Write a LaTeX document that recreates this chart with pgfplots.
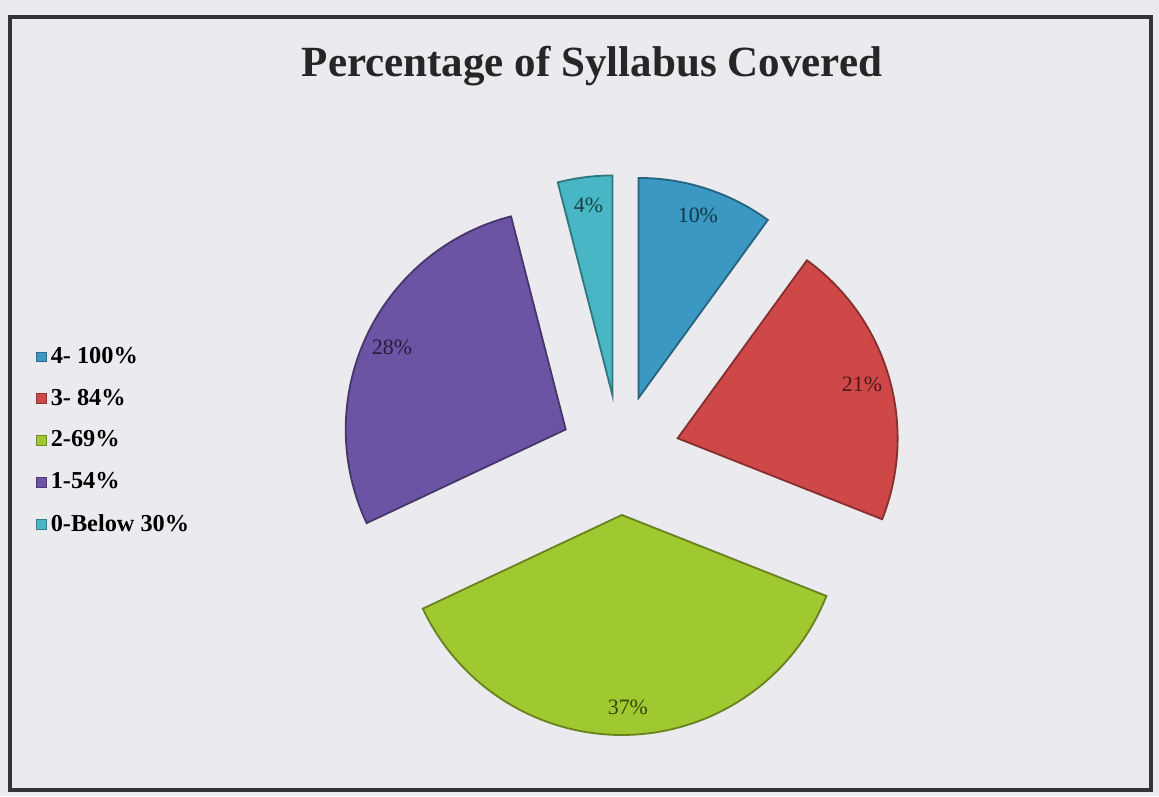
\documentclass[border=0pt]{standalone}
\usepackage{fontspec}
\setmainfont{Liberation Serif}
\usepackage{pgfplots}
\usepackage{pgfplotstable}
\pgfplotsset{compat=1.18}

\definecolor{bg}{RGB}{234,234,239}
\definecolor{frame}{RGB}{52,52,58}
\definecolor{slice0}{RGB}{58,152,194}
\definecolor{slice1}{RGB}{206,72,72}
\definecolor{slice2}{RGB}{160,200,48}
\definecolor{slice3}{RGB}{108,84,164}
\definecolor{slice4}{RGB}{72,182,196}

% share of each category, clockwise from 12 o'clock
\pgfplotstableread{
share
10
21
37
28
4
}\piedata

\begin{document}
\begin{tikzpicture}
\begin{axis}[
    x=0.5bp, y=0.5bp,
    xmin=0, xmax=1159, ymin=0, ymax=796,
    scale only axis, hide axis, clip=false,
    legend cell align=left,
    legend style={draw=none, fill=none, at={(axis cs:30,457)}, anchor=north west,
        font=\bfseries\fontsize{12.2}{14}\selectfont, row sep=7.3bp,
        /tikz/every even column/.append style={column sep=2bp}},
    legend image code/.code={\draw[#1] (0bp,-2.4bp) rectangle (4.8bp,2.4bp);},
]
\fill[bg] (axis cs:0,0) rectangle (axis cs:1159,796);
\draw[frame, line width=2.2bp] (axis cs:10,6) rectangle (axis cs:1151,779);
\node[font=\bfseries\fontsize{21.6}{25}\selectfont, text=black!85] at (axis cs:592,730) {Percentage of Syllabus Covered};

\pgfplotstablegetrowsof{\piedata}
\pgfmathtruncatemacro{\nrows}{\pgfplotsretval-1}
\def\astart{90}
\pgfplotsforeachungrouped \i in {0,...,\nrows}{
  \pgfplotstablegetelem{\i}{share}\of\piedata
  \let\share\pgfplotsretval
  \pgfmathsetmacro{\aend}{\astart-3.6*\share}
  \pgfmathsetmacro{\amid}{(\astart+\aend)/2}
  \pgfmathsetmacro{\ax}{620+60*cos(\amid)}
  \pgfmathsetmacro{\ay}{341+60*sin(\amid)}
  \pgfmathsetmacro{\bx}{\ax+220*cos(\astart)}
  \pgfmathsetmacro{\by}{\ay+220*sin(\astart)}
  \pgfmathsetmacro{\lx}{\ax+192*cos(\amid)}
  \pgfmathsetmacro{\ly}{\ay+192*sin(\amid)}
  \pgfmathtruncatemacro{\shareint}{\share}
  \edef\slicecmd{%
    \noexpand\filldraw[fill=slice\i, draw=slice\i!65!black, line width=0.9bp]
      (axis cs:\ax,\ay) -- (axis cs:\bx,\by)
      arc[start angle=\astart, end angle=\aend, radius=110bp] -- cycle;
    \noexpand\node[text=slice\i!35!black, font=\noexpand\fontsize{11}{13}\noexpand\selectfont]
      at (axis cs:\lx,\ly) {\shareint\noexpand\%};
  }
  \slicecmd
  \let\astart\aend
}

\addlegendimage{fill=slice0, draw=slice0!70!black}
\addlegendentry{4- 100\%}
\addlegendimage{fill=slice1, draw=slice1!70!black}
\addlegendentry{3- 84\%}
\addlegendimage{fill=slice2, draw=slice2!70!black}
\addlegendentry{2-69\%}
\addlegendimage{fill=slice3, draw=slice3!70!black}
\addlegendentry{1-54\%}
\addlegendimage{fill=slice4, draw=slice4!70!black}
\addlegendentry{0-Below 30\%}
\end{axis}
\end{tikzpicture}
\end{document}
